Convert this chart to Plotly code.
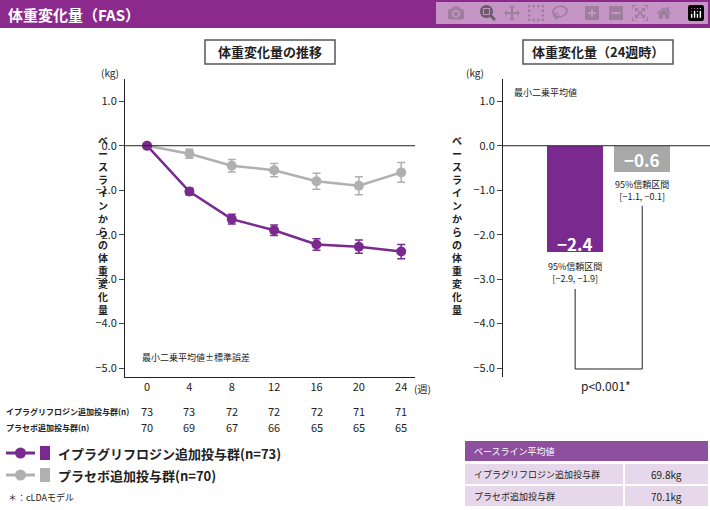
import plotly.graph_objects as go

weeks = [0, 4, 8, 12, 16, 20, 24]
ipra_mean = [0.0, -1.03, -1.65, -1.90, -2.22, -2.27, -2.38]
ipra_se = [0.0, 0.08, 0.11, 0.12, 0.13, 0.15, 0.16]
plac_mean = [0.0, -0.18, -0.45, -0.55, -0.80, -0.90, -0.60]
plac_se = [0.0, 0.10, 0.14, 0.15, 0.18, 0.20, 0.22]
n_ipra = [73, 73, 72, 72, 72, 71, 71]
n_plac = [70, 69, 67, 66, 65, 65, 65]
bar_groups = ["イプラグリフロジン", "プラセボ"]
bar_values = [-2.4, -0.6]
ci_text = ["95%信頼区間<br>[−2.9, −1.9]", "95%信頼区間<br>[−1.1, −0.1]"]

PUR = "#7a2a8e"
GRY = "#b0b0b0"
FONT = "Noto Sans CJK JP"
W, H = 710, 510

def px(x): return x / W
def py(y): return 1 - y / H

fig = go.Figure()
fig.add_trace(go.Scatter(x=weeks, y=plac_mean, error_y=dict(array=plac_se, color=GRY, thickness=1.5, width=4),
                         mode="lines+markers", line=dict(color=GRY, width=2.5),
                         marker=dict(size=10, color=GRY), showlegend=False))
fig.add_trace(go.Scatter(x=weeks, y=ipra_mean, error_y=dict(array=ipra_se, color=PUR, thickness=1.5, width=4),
                         mode="lines+markers", line=dict(color=PUR, width=2.5),
                         marker=dict(size=10, color=PUR), showlegend=False))
fig.add_trace(go.Bar(x=[0, 1], y=bar_values, width=0.84, xaxis="x2", yaxis="y2",
                     marker=dict(color=[PUR, "#a8a8a8"], line=dict(width=0)), showlegend=False))

yt = [1.0, 0.0, -1.0, -2.0, -3.0, -4.0, -5.0]
ytt = ["1.0", "0.0", "−1.0", "−2.0", "−3.0", "−4.0", "−5.0"]
ax_common = dict(tickfont=dict(size=11, color="#222"), ticks="outside", ticklen=5, showgrid=False,
                 showline=True, linecolor="#222", linewidth=1, zeroline=False)
fig.update_layout(
    width=W, height=H, margin=dict(l=0, r=0, t=0, b=0),
    paper_bgcolor="white", plot_bgcolor="white", font=dict(family=FONT, color="#222"),
    xaxis=dict(domain=[px(125), px(415)], range=[-2.08, 25.3], tickvals=weeks, ticks="", showgrid=False,
               showline=True, linecolor="#222", tickfont=dict(size=11), zeroline=False),
    yaxis=dict(domain=[py(377), py(79)], range=[-5.2, 1.5], tickvals=yt, ticktext=ytt, **ax_common),
    xaxis2=dict(domain=[px(503), 1.0], range=[-1.075, 2.01], visible=False, anchor="y2"),
    yaxis2=dict(domain=[py(377), py(79)], range=[-5.2, 1.5], tickvals=yt, ticktext=ytt, anchor="x2", **ax_common),
    bargap=0,
)
fig.add_shape(type="line", xref="paper", yref="y", x0=px(125), x1=px(415), y0=0, y1=0, line=dict(color="#222", width=1))
fig.add_shape(type="line", xref="paper", yref="y2", x0=px(503), x1=1, y0=0, y1=0, line=dict(color="#222", width=1))

def ann(x, y, text, size=10, anchor="center", color="#222", **kw):
    fig.add_annotation(x=px(x), y=py(y), xref="paper", yref="paper", text=text, showarrow=False,
                       xanchor=anchor, yanchor="middle", font=dict(size=size, color=color), **kw)

# header
fig.add_shape(type="rect", xref="paper", yref="paper", x0=0, x1=1, y0=py(28), y1=1, fillcolor="#8b2a8c", line_width=0)
ann(6, 14, "<b>体重変化量（FAS）</b>", 15, "left", "white")
for cx, w, t in [(270, 130, "体重変化量の推移"), (598, 150, "体重変化量（24週時）")]:
    fig.add_shape(type="rect", xref="paper", yref="paper", x0=px(cx - w / 2), x1=px(cx + w / 2), y0=py(64), y1=py(40),
                  line=dict(color="#555", width=1.5), fillcolor="white", layer="below")
    ann(cx, 52, "<b>" + t + "</b>", 13)

ann(110, 73, "(kg)")
ann(475, 73, "(kg)")
ann(412, 388, "(週)", 10, "left")
ann(140, 357, "最小二乗平均値±標準誤差", 9, "left")
ann(512, 92, "最小二乗平均値", 9, "left")
vt = "<br>".join(list("ベースラインからの体重変化量"))
ann(103, 225, "<b>" + vt + "</b>", 10, align="center")
ann(457, 225, "<b>" + vt + "</b>", 10, align="center")

# n rows
ann(4, 411, "<b>イプラグリフロジン追加投与群(n)</b>", 8, "left")
ann(4, 427, "<b>プラセボ追加投与群(n)</b>", 8, "left")
for wk, a, b in zip(weeks, n_ipra, n_plac):
    fig.add_annotation(x=wk, y=py(411), xref="x", yref="paper", text=str(a), showarrow=False,
                       xanchor="center", yanchor="middle", font=dict(size=11))
    fig.add_annotation(x=wk, y=py(427), xref="x", yref="paper", text=str(b), showarrow=False,
                       xanchor="center", yanchor="middle", font=dict(size=11))

# legend
for yy, col, t in [(453, PUR, "<b>イプラグリフロジン追加投与群(n=73)</b>"), (475, GRY, "<b>プラセボ追加投与群(n=70)</b>")]:
    fig.add_shape(type="line", xref="paper", yref="paper", x0=px(6), x1=px(35), y0=py(yy), y1=py(yy), line=dict(color=col, width=3))
    fig.add_shape(type="circle", xref="paper", yref="paper", x0=px(15), x1=px(26), y0=py(yy + 5.5), y1=py(yy - 5.5), fillcolor=col, line_width=0)
    fig.add_shape(type="rect", xref="paper", yref="paper", x0=px(40), x1=px(50), y0=py(yy + 7), y1=py(yy - 7), fillcolor=col, line_width=0)
    ann(56, yy, t, 13, "left")
ann(6, 497, "＊：cLDAモデル", 9, "left")

# bar annotations
def ann2(x, y, text, size, color="#222"):
    fig.add_annotation(x=x, y=y, xref="x2", yref="y2", text=text, showarrow=False, xanchor="center",
                       yanchor="middle", font=dict(size=size, color=color))
ann2(0, -2.2, "<b>−2.4</b>", 17, "white")
ann2(1, -0.3, "<b>−0.6</b>", 17, "white")
ann2(0, -2.85, ci_text[0], 9)
ann2(1, -1.0, ci_text[1], 9)
fig.add_shape(type="path", xref="x2", yref="y2", path="M 0 -3.22 L 0 -5.02 L 1 -5.02 L 1 -1.35",
              line=dict(color="#222", width=1))
ann(606, 385, "p<0.001*", 12)

# baseline table
fig.add_shape(type="rect", xref="paper", yref="paper", x0=px(465), x1=px(708), y0=py(461), y1=py(441), fillcolor="#8e4f9e", line_width=0)
ann(472, 451, "ベースライン平均値", 9, "left", "white")
for yy, lab, val in [(474, "イプラグリフロジン追加投与群", "69.8kg"), (496, "プラセボ追加投与群", "70.1kg")]:
    fig.add_shape(type="rect", xref="paper", yref="paper", x0=px(465), x1=px(623), y0=py(yy + 10), y1=py(yy - 10), fillcolor="#e6d8ea", line_width=0)
    fig.add_shape(type="rect", xref="paper", yref="paper", x0=px(625), x1=px(708), y0=py(yy + 10), y1=py(yy - 10), fillcolor="#e6d8ea", line_width=0)
    ann(472, yy, lab, 9, "left")
    ann(666, yy, val, 10)

fig.write_html("out.html", post_script="document.body.style.margin='0';")
